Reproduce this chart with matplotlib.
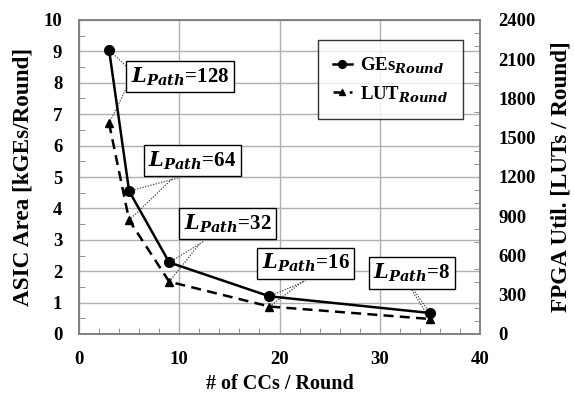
import matplotlib
matplotlib.use("Agg")
import matplotlib.pyplot as plt
from matplotlib.ticker import MultipleLocator

plt.rcParams['font.family'] = 'Liberation Serif'
plt.rcParams['font.weight'] = 'bold'
plt.rcParams['mathtext.fontset'] = 'custom'
plt.rcParams['mathtext.rm'] = 'Liberation Serif:bold'
plt.rcParams['mathtext.bf'] = 'Liberation Serif:bold'
plt.rcParams['mathtext.it'] = 'DejaVu Serif:bold:italic'
plt.rcParams['mathtext.bfit'] = 'DejaVu Serif:bold:italic'

# data
ccs = [3, 5, 9, 19, 35]
ges = [9.05, 4.55, 2.28, 1.2, 0.67]
luts = [1610, 870, 400, 210, 115]
lpath = [128, 64, 32, 16, 8]

# label boxes: centre and where the dotted leaders meet the box (left-axis coords)
box_x = [10.07, 11.32, 14.81, 22.59, 33.22]
box_y = [8.20, 5.53, 3.52, 2.25, 1.94]
lead_ge = [(4.79, 8.50), (9.88, 4.97), (12.5, 2.96), (22.6, 1.69), (33.4, 1.40)]
lead_lut = [(4.79, 7.87), (9.38, 4.97), (12.1, 2.90), (22.4, 1.69), (33.2, 1.40)]

fig = plt.figure(figsize=(5.74, 3.93), dpi=100)
ax = fig.add_axes([79/574, 59/393, 401/574, 314/393])
ax2 = ax.twinx()

grey = '#808080'
ax.plot(ccs, ges, '-', color='black', marker='o', markersize=7, lw=1.8,
        label=r'GEs$_{\mathbfit{Round}}$', zorder=5)
ax2.plot(ccs, luts, '--', color='black', marker='^', markersize=6, lw=1.8,
         dashes=(4, 2.5), zorder=5)
ax.plot([], [], '--', color='black', marker='^', markersize=6, lw=1.8,
        dashes=(4, 2.5), label=r'LUT$_{\mathbfit{Round}}$')

ax.set_xlim(0, 40)
ax.set_ylim(0, 10)
ax2.set_ylim(0, 2400)
ax.xaxis.set_major_locator(MultipleLocator(10))
ax.xaxis.set_minor_locator(MultipleLocator(2))
ax.yaxis.set_major_locator(MultipleLocator(1))
ax.yaxis.set_minor_locator(MultipleLocator(0.5))
ax2.yaxis.set_major_locator(MultipleLocator(300))
ax2.yaxis.set_minor_locator(MultipleLocator(100))

ax.grid(True, which='major', color='#b0b0b0', lw=1)
for a in (ax, ax2):
    for s in a.spines.values():
        s.set_color(grey)
        s.set_linewidth(1.2)
    a.tick_params(which='both', direction='in', color=grey, labelsize=13.5)
    a.tick_params(which='major', length=0)
    a.tick_params(which='minor', length=4)
ax.tick_params(axis='x', which='major', pad=12.5)
ax.tick_params(axis='y', which='major', pad=12)
ax2.tick_params(axis='y', which='major', pad=13)

ax.set_xlabel('# of CCs / Round', fontsize=14.5, fontweight='bold', labelpad=4)
ax.set_ylabel('ASIC Area [kGEs/Round]', fontsize=16.7, fontweight='bold', labelpad=7)
ax2.set_ylabel('FPGA Util. [LUTs / Round]', fontsize=16.7, fontweight='bold', labelpad=11)

# annotations
dot = dict(ls=(0, (1, 1.2)), color='#444444', lw=0.9, zorder=4)
for i in range(len(ccs)):
    lut_left = luts[i] / 240.0
    ax.plot([ccs[i], lead_ge[i][0]], [ges[i], lead_ge[i][1]], **dot)
    ax.plot([ccs[i], lead_lut[i][0]], [lut_left, lead_lut[i][1]], **dot)
    ax.text(box_x[i], box_y[i], r'$\mathbfit{L}_{\mathbfit{Path}}$=%d' % lpath[i],
            ha='center', va='center', fontsize=15, zorder=6,
            bbox=dict(boxstyle='square,pad=0.22', fc='white', ec='black', lw=1))

leg = ax.legend(loc='upper right', bbox_to_anchor=(0.958, 0.936), fontsize=13.5,
                frameon=True, fancybox=False, edgecolor='black', borderaxespad=0,
                handlelength=1.0, handletextpad=0.45, borderpad=0.8, labelspacing=0.45,
                markerscale=0.8)
leg.get_frame().set_linewidth(1)
leg.set_zorder(10)

fig.savefig('out.png', dpi=100)
